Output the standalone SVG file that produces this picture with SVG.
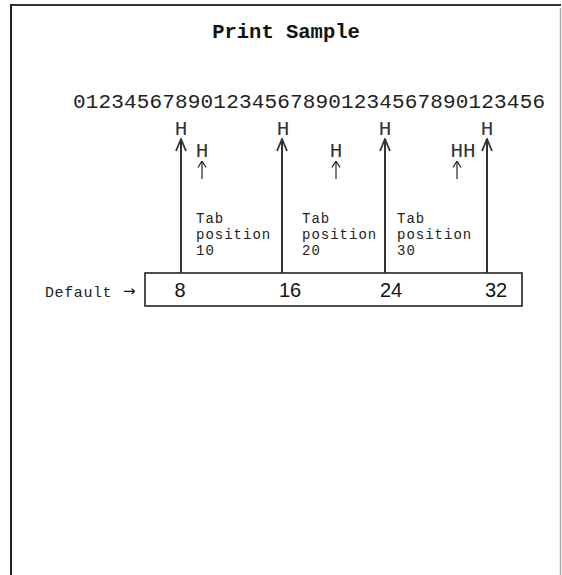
<svg xmlns="http://www.w3.org/2000/svg" width="562" height="575" viewBox="0 0 562 575">
<defs>
<style>
.mono{font-family:"Liberation Mono","DejaVu Sans Mono",monospace;fill:#111}
.title{font-size:20.5px;font-weight:bold}
.ruler{font-size:21px;fill:#222}
.h{font-size:21px;text-anchor:middle;fill:#333}
.tab{font-size:14px;letter-spacing:1px;fill:#222}
.num{font-family:"Liberation Sans",Arial,sans-serif;font-size:20px;fill:#111}
.conn{stroke:#333;stroke-width:2;fill:none}
.small{stroke:#222;stroke-width:1.2;fill:none}
</style>
<marker id="vhead" viewBox="0 0 14 12" refX="13" refY="6" markerWidth="14" markerHeight="12" markerUnits="userSpaceOnUse" orient="auto">
<path d="M1,1 L13,6 L1,11" fill="none" stroke="#333" stroke-width="1.8"/>
</marker>
<marker id="shead" viewBox="0 0 8 10" refX="7.5" refY="5" markerWidth="8" markerHeight="10" markerUnits="userSpaceOnUse" orient="auto">
<path d="M1,1 L7.5,5 L1,9" fill="none" stroke="#222" stroke-width="1.2"/>
</marker>
</defs>
<rect width="562" height="575" fill="#fff"/>
<g id="frame">
<line x1="10" y1="5" x2="561" y2="5" stroke="#333" stroke-width="2"/>
<line x1="11" y1="5" x2="11" y2="575" stroke="#222" stroke-width="2"/>
<line x1="560.5" y1="8" x2="560.5" y2="575" stroke="#aaa" stroke-width="1.5"/>
</g>
<g id="title"><text class="mono title" x="286" y="38" text-anchor="middle">Print Sample</text></g>
<g id="ruler"><text class="mono ruler" x="73" y="108" textLength="472" lengthAdjust="spacing">0123456789012345678901234567890123456</text></g>
<g id="tab-marks">
<text class="mono h" x="181" y="135">H</text>
<text class="mono h" x="283" y="135">H</text>
<text class="mono h" x="385" y="135">H</text>
<text class="mono h" x="487" y="135">H</text>
</g>
<g id="small-marks">
<text class="mono h" x="202" y="157">H</text>
<line class="small" x1="202" y1="179" x2="202" y2="161" marker-end="url(#shead)"/>
<text class="mono h" x="336" y="157">H</text>
<line class="small" x1="336" y1="179" x2="336" y2="161" marker-end="url(#shead)"/>
<text class="mono h" x="463" y="157">HH</text>
<line class="small" x1="457" y1="179" x2="457" y2="161" marker-end="url(#shead)"/>
</g>
<g id="tab10"><text class="mono tab" x="196" y="223">Tab</text><text class="mono tab" x="196" y="239">position</text><text class="mono tab" x="196" y="255">10</text></g>
<g id="tab20"><text class="mono tab" x="302" y="223">Tab</text><text class="mono tab" x="302" y="239">position</text><text class="mono tab" x="302" y="255">20</text></g>
<g id="tab30"><text class="mono tab" x="397" y="223">Tab</text><text class="mono tab" x="397" y="239">position</text><text class="mono tab" x="397" y="255">30</text></g>
<g id="default-label"><text class="mono" style="font-size:15px;letter-spacing:0.6px;fill:#222" x="45" y="297">Default</text><text style="font-family:'DejaVu Sans',sans-serif;font-size:15px;fill:#111" x="123" y="296">→</text></g>
<g id="default-box">
<rect x="145" y="273" width="377" height="33" fill="#fff" stroke="#222" stroke-width="1.6"/>
<text class="num" x="180" y="297" text-anchor="middle">8</text>
<text class="num" x="290" y="297" text-anchor="middle">16</text>
<text class="num" x="391" y="297" text-anchor="middle">24</text>
<text class="num" x="496" y="297" text-anchor="middle">32</text>
</g>
<g id="connectors">
<line class="conn" x1="181" y1="273" x2="181" y2="139" marker-end="url(#vhead)"/>
<line class="conn" x1="282" y1="273" x2="282" y2="139" marker-end="url(#vhead)"/>
<line class="conn" x1="385" y1="273" x2="385" y2="139" marker-end="url(#vhead)"/>
<line class="conn" x1="487" y1="273" x2="487" y2="139" marker-end="url(#vhead)"/>
</g>
</svg>
